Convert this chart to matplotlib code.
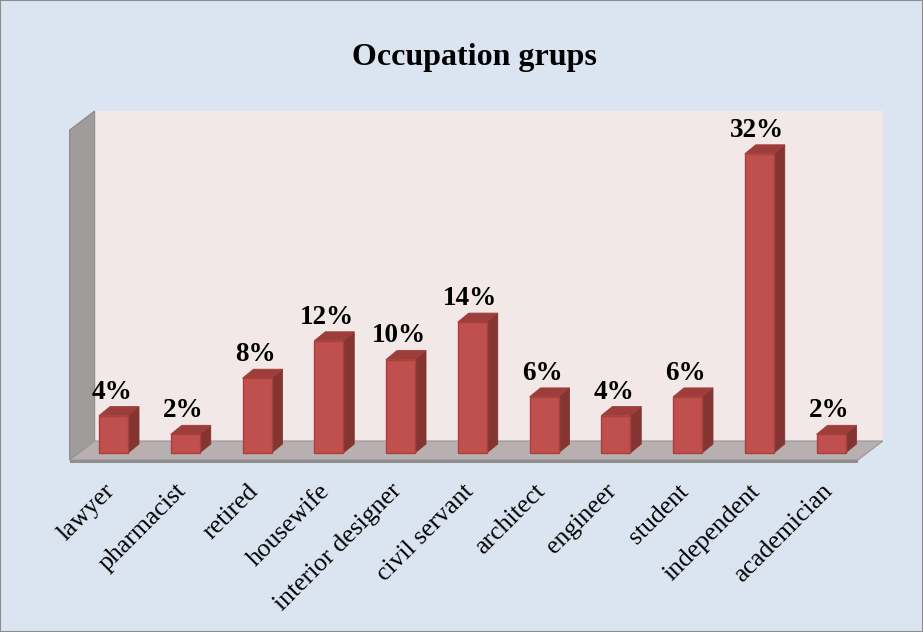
import matplotlib.pyplot as plt
from matplotlib.patches import Polygon, Rectangle
import matplotlib.transforms as mtransforms

# occupation shares (%)
occupations = ["lawyer", "pharmacist", "retired", "housewife", "interior designer",
               "civil servant", "architect", "engineer", "student", "independent",
               "academician"]
shares = [4, 2, 8, 12, 10, 14, 6, 4, 6, 32, 2]
labels = [f"{v}%" for v in shares]

W, H, DPI = 923, 632, 100
px_per_cat = 71.75   # pixel spacing between categories
px_per_pct = 9.35    # pixel height of one percent
y_max = 35

# colours
bg_col = "#dbe5f1"
wall_col = "#f3e8e8"
side_wall_col = "#a19c9c"
floor_col = "#b8b0b0"
floor_edge_col = "#8f8f8f"
bar_front = "#c0504d"
bar_top = "#9e3e3b"
bar_side = "#843532"
bar_edge = "#a8403d"

plt.rcParams['font.family'] = ['Liberation Serif', 'DejaVu Serif']

fig = plt.figure(figsize=(W / DPI, H / DPI), dpi=DPI, facecolor=bg_col)
fig.patches.append(Rectangle((0, 0), 1, 1, transform=fig.transFigure, fill=False,
                             edgecolor="#8c8c8c", linewidth=1.5))

n = len(shares)
ax_left = 113.5 - px_per_cat / 2
ax_bottom = H - 453
ax = fig.add_axes([ax_left / W, ax_bottom / H, n * px_per_cat / W, y_max * px_per_pct / H])
ax.set_xlim(-0.5, n - 0.5)
ax.set_ylim(0, y_max)
ax.axis("off")


def px2x(p):
    return p / px_per_cat


def px2y(p):
    return p / px_per_pct


# wall/floor depth (front plane is behind the bars' front faces)
wall_dx, wall_dy = px2x(25), px2y(19)
front_y = px2y(-7)          # front edge of floor
front_l = -0.5 - px2x(8)    # floor front left
front_r = n - 0.5 - px2x(9)
wall_top = px2y(453 - 130)  # top of the left wall at the front
slab = px2y(3)

# back wall
ax.add_patch(Polygon([(front_l + wall_dx, front_y + wall_dy),
                      (front_r + wall_dx, front_y + wall_dy),
                      (front_r + wall_dx, wall_top + wall_dy),
                      (front_l + wall_dx, wall_top + wall_dy)],
                     closed=True, facecolor=wall_col, edgecolor="none", clip_on=False))
# left side wall
ax.add_patch(Polygon([(front_l, front_y), (front_l + wall_dx, front_y + wall_dy),
                      (front_l + wall_dx, wall_top + wall_dy), (front_l, wall_top)],
                     closed=True, facecolor=side_wall_col, edgecolor="#8c8888",
                     linewidth=0.8, clip_on=False))
# floor
ax.add_patch(Polygon([(front_l, front_y), (front_r, front_y),
                      (front_r + wall_dx, front_y + wall_dy),
                      (front_l + wall_dx, front_y + wall_dy)],
                     closed=True, facecolor=floor_col, edgecolor="#9a9494",
                     linewidth=0.8, clip_on=False))
# floor slab front edge
ax.add_patch(Polygon([(front_l, front_y), (front_r, front_y),
                      (front_r, front_y - slab), (front_l, front_y - slab)],
                     closed=True, facecolor=floor_edge_col, edgecolor="none", clip_on=False))

# 3D bars
bw = px2x(29)
bar_dx, bar_dy = px2x(11), px2y(9)
for i, v in enumerate(shares):
    x0, x1 = i - bw / 2, i + bw / 2
    ax.add_patch(Polygon([(x1, 0), (x1 + bar_dx, bar_dy), (x1 + bar_dx, v + bar_dy), (x1, v)],
                         closed=True, facecolor=bar_side, edgecolor=bar_side,
                         linewidth=0.6, clip_on=False))
    ax.add_patch(Polygon([(x0, v), (x1, v), (x1 + bar_dx, v + bar_dy), (x0 + bar_dx, v + bar_dy)],
                         closed=True, facecolor=bar_top, edgecolor=bar_top,
                         linewidth=0.6, clip_on=False))
    ax.add_patch(Rectangle((x0, 0), bw, v, facecolor=bar_front, edgecolor=bar_edge,
                           linewidth=1.0, clip_on=False))

# value labels above bars
lbl_off = mtransforms.offset_copy(ax.transData, fig=fig, x=0, y=8, units="dots")
for i, (v, t) in enumerate(zip(shares, labels)):
    ax.text(i - px2x(2), v + bar_dy, t, transform=lbl_off,
            ha="center", va="baseline", fontsize=19.5, fontweight="bold")

# category labels, rotated
for i, name in enumerate(occupations):
    ax.text(i - px2x(10), px2y(-27), name, rotation=45, rotation_mode="anchor",
            ha="right", va="top", fontsize=18.5)

fig.text(474 / W, 1 - 65 / H, "Occupation grups", ha="center", va="baseline",
         fontsize=23, fontweight="bold")

fig.savefig("out.png", dpi=DPI, facecolor=bg_col)
